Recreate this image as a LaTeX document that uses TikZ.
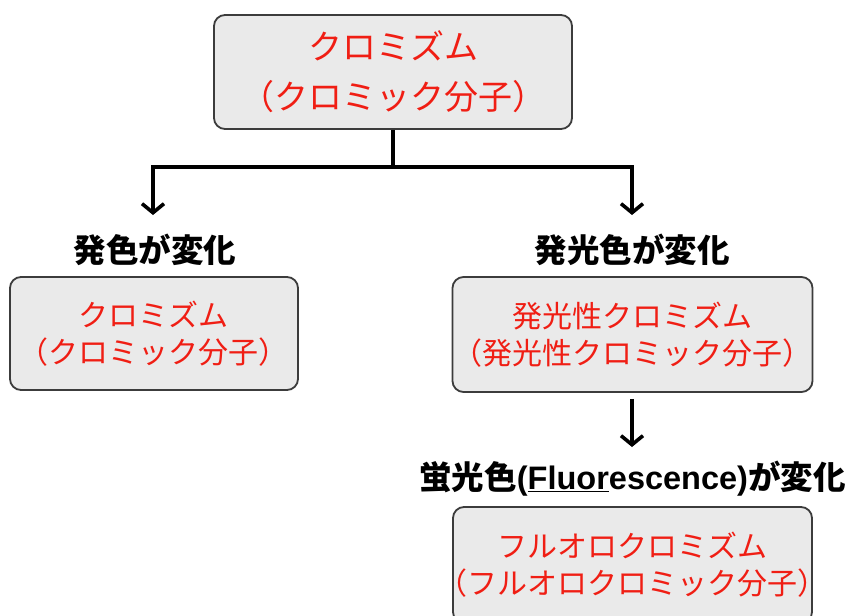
\documentclass[tikz,border=0pt]{standalone}
\usepackage{fontspec}
\newfontfamily\jp{Noto Sans CJK JP}
\newfontfamily\lat{Liberation Sans}
\usetikzlibrary{arrows.meta}
\definecolor{txtred}{RGB}{240,30,20}
\definecolor{boxfill}{RGB}{234,234,234}
\definecolor{boxline}{RGB}{60,60,60}
\tikzset{
  box/.style={draw=boxline, line width=1.8pt, fill=boxfill, rounded corners=11pt,
    align=center, text=txtred, inner sep=0pt},
  lbl/.style={font=\jp\bfseries\fontsize{32.5}{36}\selectfont, text=black, inner sep=0pt},
  conn/.style={line width=3.6pt, draw=black},
  arr/.style={conn, -{Straight Barb[length=9pt,width=22pt]}},
}
\begin{document}
\begin{tikzpicture}[x=1pt,y=-1pt]
\useasboundingbox (0,0) rectangle (847,616);
\clip (0,0) rectangle (847,616);
\node[box, minimum width=358pt, minimum height=114pt,
  font=\jp\fontsize{34}{50}\selectfont] (top) at (393,72)
  {クロミズム\\（クロミック分子）};
\node[box, minimum width=288pt, minimum height=113pt,
  font=\jp\fontsize{30}{37}\selectfont] (lbox) at (154,333.5)
  {クロミズム\\（クロミック分子）};
\node[box, minimum width=359pt, minimum height=115pt,
  font=\jp\fontsize{30}{37}\selectfont] (rbox) at (632.5,334.5)
  {発光性クロミズム\\（発光性クロミック分子）};
\node[box, minimum width=359pt, minimum height=116pt,
  font=\jp\fontsize{30}{37}\selectfont] (bbox) at (632.5,565)
  {\makebox[330pt]{フルオロクロミズム}\\\makebox[330pt]{（フルオロクロミック分子）}};
\node[lbl] (lab1) at (155,250) {発色が変化};
\node[lbl] (lab2) at (632,250) {発光色が変化};
\node[lbl] (lab3) at (632.5,479) {蛍光色{\lat\bfseries (\underline{Fluor}escence)}が変化};
\coordinate (j) at (393,167);
\coordinate (t1) at (153,215);
\coordinate (t2) at (632,215);
\coordinate (t3) at (632,447);
\draw[conn] (top.south) -- (j);
\draw[arr] (j) -| (t1);
\draw[arr] (j) -| (t2);
\draw[arr] ([yshift=-6pt]rbox.south -| t3) -- (t3);
\end{tikzpicture}
\end{document}
